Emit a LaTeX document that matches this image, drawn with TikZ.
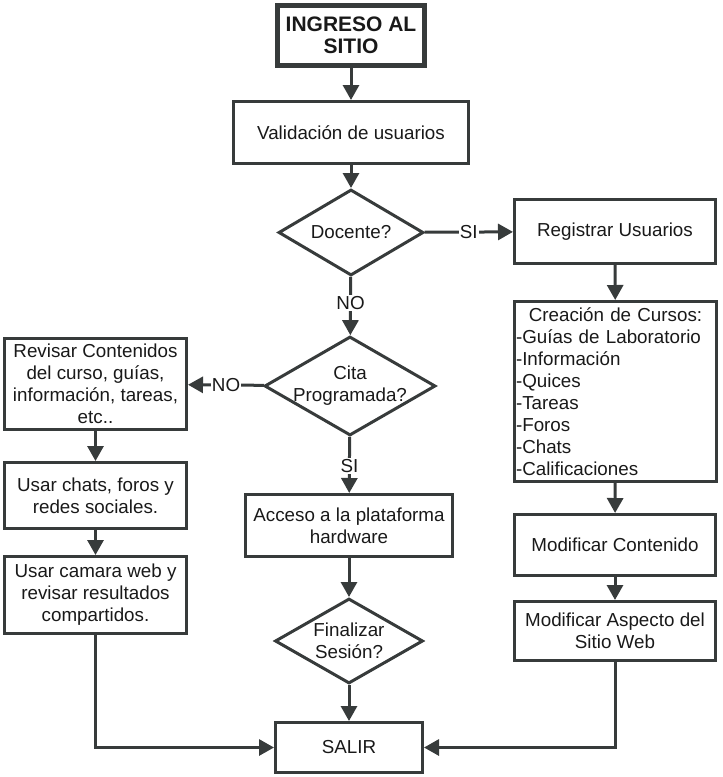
\documentclass[tikz,border=0pt]{standalone}
\usepackage{fontspec}
\setmainfont{Liberation Sans}
\usetikzlibrary{shapes.geometric,arrows.meta}
\definecolor{linea}{RGB}{55,59,59}
\definecolor{texto}{RGB}{25,25,25}
\begin{document}
\begin{tikzpicture}[x=1pt,y=-1pt,
    every node/.style={text=texto,font=\fontsize{18.8}{22}\selectfont},
    caja/.style={draw=linea,line width=3pt,rectangle,align=center,inner sep=2pt},
    inicio/.style={caja,line width=5pt,font=\fontsize{21}{22}\selectfont\bfseries},
    rombo/.style={draw=linea,line width=3pt,diamond,align=center,inner sep=-8pt,aspect=1.7},
    etiqueta/.style={fill=white,inner sep=1pt},
    flecha/.style={draw=linea,line width=3pt,-{Triangle[length=15pt,width=16pt]}}]
  \useasboundingbox (0,0) rectangle (723,777);
  \draw
    (351,35.5) node[inicio,minimum width=147,minimum height=60] (ingreso){INGRESO AL\\SITIO}
    (351,132.5) node[caja,minimum width=235,minimum height=62] (validacion){Validación de usuarios}
    (351,232.5) node[rombo,minimum width=145,minimum height=86] (docente){Docente?}
    (615,231.5) node[caja,minimum width=201,minimum height=64] (registrar){Registrar Usuarios}
    (615.5,391.5) node[caja,text width=199,inner xsep=1.5pt,minimum height=180,align=left] (creacion){\makebox[\linewidth]{Creación de Cursos:}\\-Guías de Laboratorio\\-Información\\-Quices\\-Tareas\\-Foros\\-Chats\\-Calificaciones}
    (615,545) node[caja,minimum width=201,minimum height=61] (modcontenido){Modificar Contenido}
    (615,631) node[caja,minimum width=201,minimum height=59] (modaspecto){Modificar Aspecto del\\Sitio Web}
    (350,386) node[rombo,minimum width=171,minimum height=99] (cita){Cita\\Programada?}
    (95.5,384) node[caja,minimum width=182,minimum height=91] (revisar){Revisar Contenidos\\del curso, guías,\\información, tareas,\\etc..}
    (95.5,495.5) node[caja,minimum width=182,minimum height=66] (chats){Usar chats, foros y\\redes sociales.}
    (95.5,595) node[caja,minimum width=182,minimum height=77] (camara){Usar camara web y\\revisar resultados\\compartidos.}
    (349,525.5) node[caja,minimum width=207,minimum height=62] (acceso){Acceso a la plataforma\\hardware}
    (349,641) node[rombo,minimum width=148,minimum height=85] (finalizar){Finalizar\\Sesión?}
    (349,747.5) node[caja,minimum width=147,minimum height=50] (salir){SALIR};
  \begin{scope}[flecha]
    \draw (ingreso) to (validacion);
    \draw (validacion) to (docente);
    \draw (docente) to node[etiqueta]{SI} (registrar);
    \draw (docente) to node[etiqueta,pos=0.45]{NO} (cita);
    \draw (cita) to node[etiqueta]{NO} (revisar);
    \draw (cita) to node[etiqueta,pos=0.52]{SI} (acceso);
    \draw (acceso) to (finalizar);
    \draw (finalizar) to (salir);
    \draw (revisar) to (chats);
    \draw (chats) to (camara);
    \draw (registrar) to (creacion);
    \draw (creacion) to (modcontenido);
    \draw (modcontenido) to (modaspecto);
    \draw (camara.south) |- (salir.west);
    \draw (modaspecto.south) |- (salir.east);
  \end{scope}
\end{tikzpicture}
\end{document}
